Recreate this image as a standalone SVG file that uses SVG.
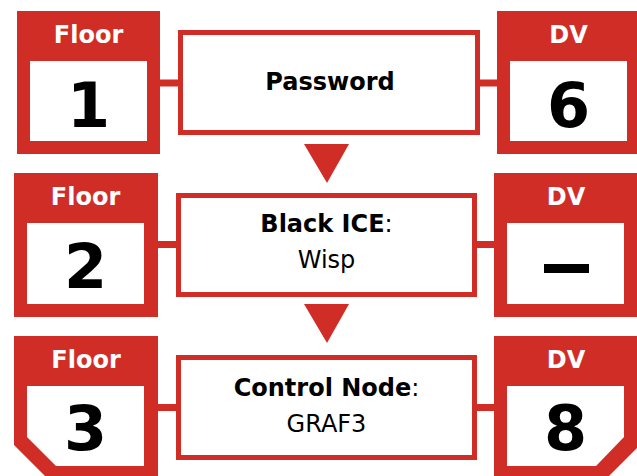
<svg xmlns="http://www.w3.org/2000/svg" width="637" height="476" viewBox="0 0 637 476">
  <style>
    .tag { fill: #d12d27; }
    .well { fill: #ffffff; }
    .step { fill: #ffffff; stroke: #d12d27; stroke-width: 5; }
    .link { stroke: #d12d27; stroke-width: 7; fill: none; }
    .arrow { fill: #d12d27; }
    .head { font-family: "DejaVu Sans", "Liberation Sans", sans-serif; font-weight: bold; font-size: 24px; fill: #ffffff; text-anchor: middle; }
    .num { font-family: "DejaVu Sans", "Liberation Sans", sans-serif; font-weight: bold; font-size: 62px; fill: #000000; text-anchor: middle; }
    .label { font-family: "DejaVu Sans", "Liberation Sans", sans-serif; font-size: 24px; fill: #000000; text-anchor: middle; }
    .b { font-weight: bold; }
  </style>

  <!-- connectors -->
  <g id="connectors">
    <line class="link" x1="158" y1="83" x2="180" y2="83"/>
    <line class="link" x1="478" y1="83" x2="499" y2="83"/>
    <line class="link" x1="156" y1="244.5" x2="178" y2="244.5"/>
    <line class="link" x1="475" y1="244.5" x2="496" y2="244.5"/>
    <line class="link" x1="156" y1="407.5" x2="178" y2="407.5"/>
    <line class="link" x1="475" y1="407.5" x2="496" y2="407.5"/>
    <polygon class="arrow" points="304,144 349,144 327,183"/>
    <polygon class="arrow" points="304,304 349,304 327,343"/>
  </g>

  <!-- row 1 -->
  <g id="floor-1">
    <rect class="tag" x="17" y="11" width="143" height="143"/>
    <rect class="well" x="30" y="61" width="117" height="80"/>
    <text class="head" x="88.5" y="43">Floor</text>
    <text class="num" x="88.5" y="127">1</text>
  </g>
  <g id="step-password">
    <rect class="step" x="180.5" y="32.5" width="297" height="100"/>
    <text class="label b" x="330" y="90">Password</text>
  </g>
  <g id="dv-1">
    <rect class="tag" x="497" y="11" width="143" height="143"/>
    <rect class="well" x="510" y="61" width="117" height="80"/>
    <text class="head" x="568.5" y="43">DV</text>
    <text class="num" x="568.5" y="127">6</text>
  </g>

  <!-- row 2 -->
  <g id="floor-2">
    <rect class="tag" x="14" y="173" width="144" height="144"/>
    <rect class="well" x="27" y="223" width="117" height="81"/>
    <text class="head" x="85.5" y="205">Floor</text>
    <text class="num" x="85.5" y="288">2</text>
  </g>
  <g id="step-black-ice">
    <rect class="step" x="178.5" y="195.5" width="296" height="99"/>
    <text class="label" x="326.5" y="232"><tspan class="b">Black ICE</tspan>:</text>
    <text class="label" x="326.5" y="268">Wisp</text>
  </g>
  <g id="dv-2">
    <rect class="tag" x="494" y="173" width="144" height="144"/>
    <rect class="well" x="507" y="223" width="117" height="81"/>
    <text class="head" x="566" y="205">DV</text>
    <rect x="544" y="264" width="45" height="9" fill="#000000"/>
  </g>

  <!-- row 3 -->
  <g id="floor-3">
    <polygon class="tag" points="14,336 158,336 158,476 45,476 14,445"/>
    <polygon class="well" points="27,386 144,386 144,466 56,466 27,437"/>
    <text class="head" x="86" y="368">Floor</text>
    <text class="num" x="85.5" y="450">3</text>
  </g>
  <g id="step-control-node">
    <rect class="step" x="178.5" y="357.5" width="296" height="100"/>
    <text class="label" x="326.5" y="396"><tspan class="b">Control Node</tspan>:</text>
    <text class="label" x="326.5" y="432">GRAF3</text>
  </g>
  <g id="dv-3">
    <polygon class="tag" points="494,336 640,336 640,445 609,476 494,476"/>
    <polygon class="well" points="507,386 624,386 624,437 596,466 507,466"/>
    <text class="head" x="566" y="368">DV</text>
    <text class="num" x="565.5" y="450">8</text>
  </g>
</svg>
